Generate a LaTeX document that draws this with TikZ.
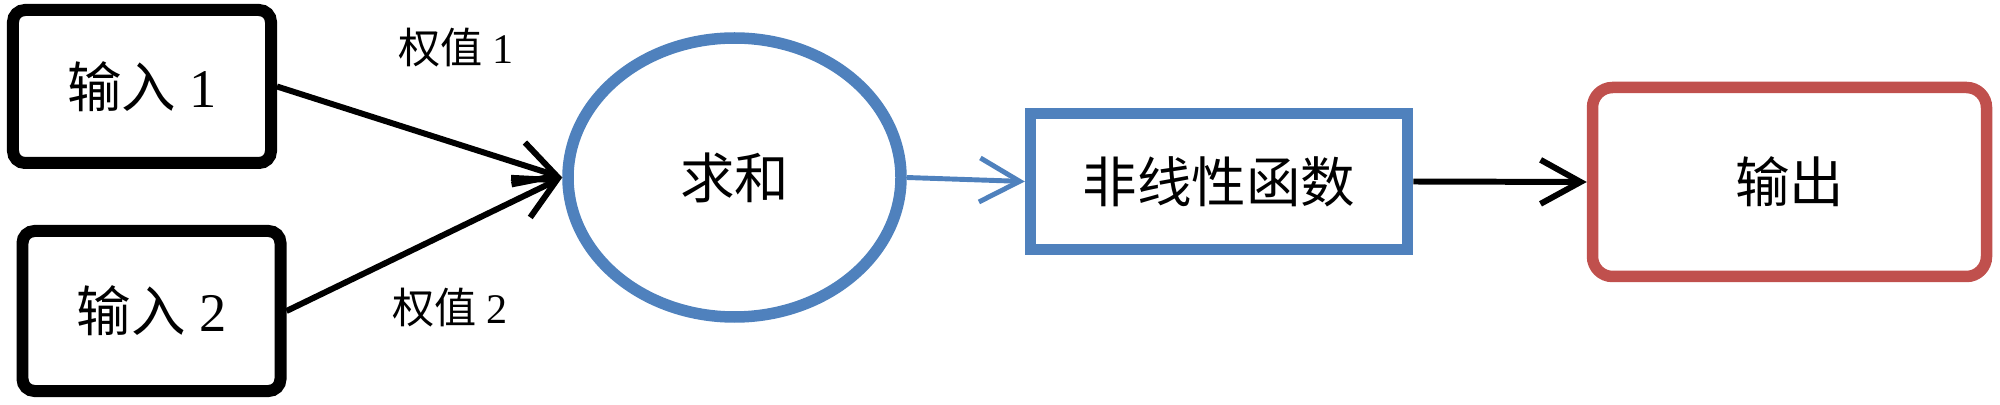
\documentclass[tikz,border=0pt]{standalone}
\usepackage{fontspec}
\setmainfont{Liberation Serif}
\newfontfamily\cjk{Noto Sans CJK SC}
\usetikzlibrary{arrows.meta,shapes.geometric}
\definecolor{boxblue}{HTML}{4F81BD}
\definecolor{boxred}{HTML}{C0504D}

\begin{document}
\begin{tikzpicture}[
        every node/.style={
            inner sep=0pt,
            font=\fontsize{15.5}{18}\selectfont
        },
        inbox/.style={
            rectangle,
            rounded corners=0.12cm,
            draw=black,
            line width=0.12cm,
            minimum width=2.58cm,
            minimum height=1.53cm
        },
        sumnode/.style={
            ellipse,
            draw=boxblue,
            line width=0.115cm,
            minimum width=3.33cm,
            minimum height=2.79cm
        },
        actbox/.style={
            rectangle,
            draw=boxblue,
            line width=0.115cm,
            minimum width=3.77cm,
            minimum height=1.36cm
        },
        outbox/.style={
            rectangle,
            rounded corners=0.2cm,
            draw=boxred,
            line width=0.115cm,
            minimum width=3.94cm,
            minimum height=1.89cm
        },
        weight/.style={font=\fontsize{12}{14}\selectfont},
        link/.style={
            line width=1.7pt,
            -{Straight Barb[length=0.4cm,width=0.44cm]}
        }
    ]

    \useasboundingbox (0,0) rectangle (20,4.04);

    % Bloques
    \node[inbox]   (in1) at (1.42,3.175)   {{\cjk 输入} 1};
    \node[inbox, minimum height=1.6cm] (in2) at (1.515,0.93) {{\cjk 输入} 2};
    \node[sumnode] (sum) at (7.345,2.265)  {\cjk 求和};
    \node[actbox]  (act) at (12.19,2.225)  {\cjk 非线性函数};
    \node[outbox]  (out) at (17.895,2.22)  {\cjk 输出};

    % Pesos
    \node[weight] (w1) at (4.56,3.56) {{\cjk 权值} 1};
    \node[weight] (w2) at (4.50,0.96) {{\cjk 权值} 2};

    % Conexiones
    \draw[link] (in1.east) -- (sum.west);
    \draw[link] (in2.east) -- (sum.west);
    \draw[link, boxblue, line width=1.4pt] (sum.east) -- (act.west);
    \draw[link] (act.east) -- (out.west);

\end{tikzpicture}
\end{document}
